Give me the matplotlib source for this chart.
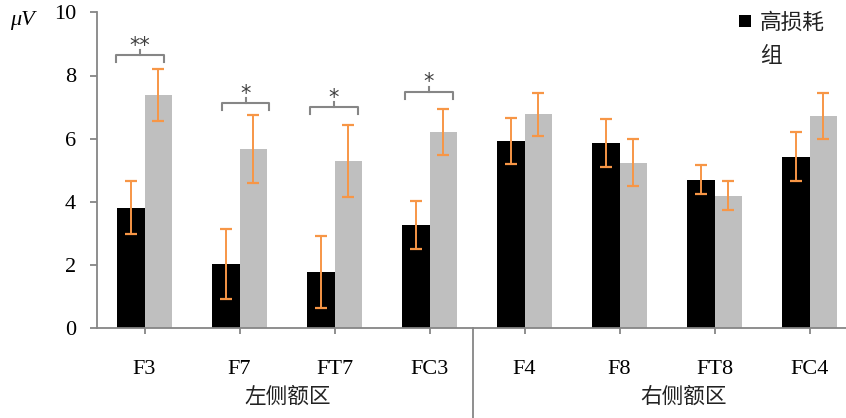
import matplotlib
matplotlib.use("Agg")
import matplotlib.pyplot as plt
from matplotlib.patches import Rectangle
import numpy as np

plt.rcParams['font.family'] = ['Liberation Serif', 'Noto Sans CJK SC', 'DejaVu Sans']

categories = ["F3", "F7", "FT7", "FC3", "F4", "F8", "FT8", "FC4"]
regions = ["左侧额区", "右侧额区"]
series_names = ["高损耗组", "低损耗组"]
high_loss = [3.82, 2.03, 1.78, 3.27, 5.93, 5.87, 4.70, 5.43]
high_err = [0.83, 1.10, 1.14, 0.77, 0.72, 0.75, 0.46, 0.77]
low_loss = [7.38, 5.67, 5.29, 6.21, 6.78, 5.24, 4.20, 6.72]
low_err = [0.83, 1.08, 1.13, 0.74, 0.68, 0.74, 0.47, 0.74]
sig_marks = ["**", "*", "*", "*", "", "", "", ""]
sig_levels = [8.65, 7.14, 7.01, 7.49, 0, 0, 0, 0]

W, H = 846, 418
fig = plt.figure(figsize=(W / 100, H / 100), dpi=100)
ax = fig.add_axes([97 / W, (H - 328.3) / H, (857 - 97) / W, (328.3 - 12.3) / H])

x = np.arange(len(categories))
bw = 0.285
axis_gray = "#868686"
orange = "#F79646"

ax.bar(x - bw / 2, high_loss, width=bw, color="black", zorder=2)
ax.bar(x + bw / 2, low_loss, width=bw, color="#BFBFBF", zorder=2)
ax.errorbar(x - bw / 2, high_loss, yerr=high_err, fmt="none", ecolor=orange,
            elinewidth=1.4, capsize=4.2, capthick=1.6, zorder=3)
ax.errorbar(x + bw / 2, low_loss, yerr=low_err, fmt="none", ecolor=orange,
            elinewidth=1.4, capsize=4.2, capthick=1.6, zorder=3)

# significance brackets
bracket_spans = {0: (-0.30, 0.21), 1: (-0.18, 0.31), 2: (-0.26, 0.25), 3: (-0.26, 0.25)}
for i, (mark, lvl) in enumerate(zip(sig_marks, sig_levels)):
    if not mark:
        continue
    l, r = bracket_spans[i]
    xl, xr = i + l, i + r
    xc = (xl + xr) / 2
    drop = 0.22
    ax.plot([xl, xl, xr, xr], [lvl - drop, lvl, lvl, lvl - drop], color=axis_gray,
            lw=1.5, solid_joinstyle="round", clip_on=False, zorder=4)
    ax.plot([xc, xc], [lvl, lvl + 0.15], color=axis_gray, lw=1.5, clip_on=False, zorder=4)
    ax.text(xc, lvl + 0.10, mark, ha="center", va="baseline", fontsize=15,
            color="#404040", family=["DejaVu Sans"])

ax.set_xlim(-0.5, len(categories) - 0.5)
ax.set_ylim(0, 10)
ax.set_yticks(np.arange(0, 11, 2))
ax.set_xticks(x)
ax.set_xticklabels(categories)

for s in ["top", "right"]:
    ax.spines[s].set_visible(False)
for s in ["left", "bottom"]:
    ax.spines[s].set_color(axis_gray)
    ax.spines[s].set_linewidth(1.3)
ax.spines["bottom"].set_clip_on(False)

ax.tick_params(axis="y", direction="out", length=5, width=1.3, color=axis_gray,
               labelsize=16, pad=10)
ax.tick_params(axis="x", direction="out", length=4, width=1.3, color=axis_gray,
               labelsize=16, pad=19)
for lab in ax.get_xticklabels() + ax.get_yticklabels():
    lab.set_family("Liberation Serif")

# region labels
trans = ax.get_xaxis_transform()
ax.text(1.505, -0.216, regions[0], transform=trans, ha="center", va="center",
        fontsize=15.6, family=["Noto Sans CJK SC"], color="#222222")
ax.text(5.68, -0.216, regions[1], transform=trans, ha="center", va="center",
        fontsize=15.6, family=["Noto Sans CJK SC"], color="#222222")
# separator line
ax.plot([3.46, 3.46], [0, -0.30], transform=trans, color=axis_gray, lw=1.3, clip_on=False)

# y unit label
fig.text(10 / W, 1 - 21 / H, "μV", ha="left", va="center", fontsize=16,
         style="italic", family=["Liberation Serif"])

# legend (manual, wrapped)
fig.patches.append(Rectangle((739 / W, 1 - 27 / H), 12 / W, 12 / H,
                             transform=fig.transFigure, facecolor="black",
                             edgecolor="none"))
name = series_names[0]
fig.text(760 / W, 1 - 23 / H, name[:3], ha="left", va="center", fontsize=15.6,
         family=["Noto Sans CJK SC"], color="#222222")
fig.text(760 / W, 1 - 56 / H, name[3:], ha="left", va="center", fontsize=15.6,
         family=["Noto Sans CJK SC"], color="#222222")

fig.savefig("out.png", dpi=100)
